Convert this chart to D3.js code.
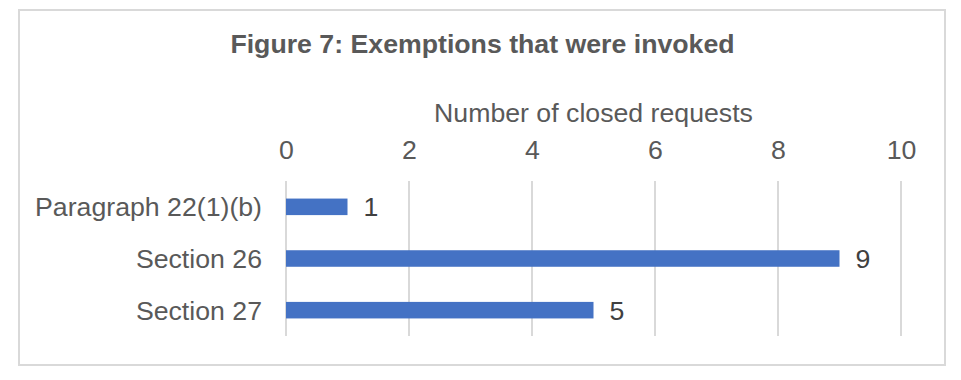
<!DOCTYPE html>
<html><head><meta charset="utf-8">
<script src="https://cdn.jsdelivr.net/npm/d3@7"></script>
<style>body{margin:0;background:#fff}svg{display:block}text{font-family:"Liberation Sans",Arial,sans-serif}</style>
</head><body><svg id="c" width="961" height="380"></svg>
<script>
const categories = ["Paragraph 22(1)(b)", "Section 26", "Section 27"];
const values = [1, 9, 5];
const tickValues = [0, 2, 4, 6, 8, 10];
const titleText = "Figure 7: Exemptions that were invoked";
const axisTitle = "Number of closed requests";

const svg = d3.select("#c");
svg.append("rect").attr("x", 19).attr("y", 10).attr("width", 926).attr("height", 355)
  .attr("fill", "#fff").attr("stroke", "#d9d9d9").attr("stroke-width", 2);

const x = d3.scaleLinear().domain([0, 10]).range([286, 901]);
const y = d3.scaleBand().domain(categories).range([181, 336]).paddingInner(0.68).paddingOuter(0.34);

svg.append("text").attr("x", 482.5).attr("y", 53).attr("text-anchor", "middle")
  .attr("font-size", 26.7).attr("font-weight", "bold").attr("fill", "#595959").text(titleText);

svg.append("text").attr("x", (x(0) + x(10)) / 2).attr("y", 122).attr("text-anchor", "middle")
  .attr("font-size", 26.7).attr("fill", "#595959").text(axisTitle);

// gridlines
svg.append("g").selectAll("line").data(tickValues).join("line")
  .attr("x1", d => x(d)).attr("x2", d => x(d)).attr("y1", 181).attr("y2", 336)
  .attr("stroke", "#d9d9d9").attr("stroke-width", 2);

// top axis tick labels
const ax = svg.append("g").attr("transform", "translate(0,159)")
  .call(d3.axisTop(x).tickValues(tickValues).tickSize(0).tickPadding(0).tickFormat(d3.format("d")));
ax.select(".domain").remove();
ax.selectAll("text").attr("font-size", 26.7).attr("fill", "#595959").attr("font-family", null).attr("dy", 0);

// category labels
svg.append("g").selectAll("text").data(categories).join("text")
  .attr("x", 262).attr("y", d => y(d) + y.bandwidth() / 2).attr("dy", "0.35em")
  .attr("text-anchor", "end").attr("font-size", 26.7).attr("fill", "#595959").text(d => d);

// bars
svg.append("g").selectAll("rect").data(values).join("rect")
  .attr("x", x(0)).attr("y", (d, i) => y(categories[i]))
  .attr("width", d => x(d) - x(0)).attr("height", y.bandwidth()).attr("fill", "#4472c4");

// value labels
svg.append("g").selectAll("text").data(values).join("text")
  .attr("x", d => x(d) + 16).attr("y", (d, i) => y(categories[i]) + y.bandwidth() / 2).attr("dy", "0.35em")
  .attr("font-size", 26.7).attr("fill", "#404040").text(d => d);
</script></body></html>
